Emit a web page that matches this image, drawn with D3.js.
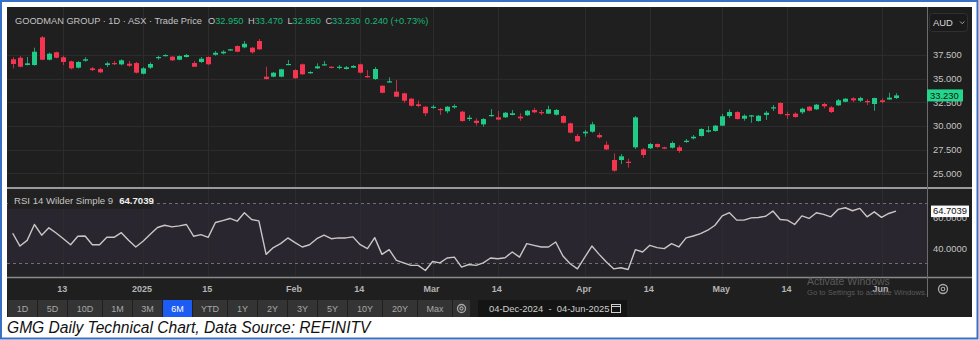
<!DOCTYPE html>
<html><head><meta charset="utf-8">
<script src="https://cdn.jsdelivr.net/npm/d3@7"></script>
<style>body{margin:0;background:#fff}svg{display:block;font-family:"Liberation Sans",Arial,sans-serif}</style>
</head><body><svg id="c" width="979" height="340"></svg>
<script>
// ---------- data ----------
const startDate = "2024-12-04", endDate = "2025-06-04";
const closedDays = ["2024-12-25","2024-12-26","2025-01-01","2025-01-27","2025-02-24","2025-04-18","2025-04-21","2025-04-25"];
const openP = [37.05,37.21,36.44,36.44,39.37,37.00,37.79,37.26,36.83,36.16,36.90,36.09,36.02,36.44,36.65,36.51,36.58,36.65,35.52,36.16,
37.21,37.39,37.32,37.00,37.29,36.65,36.76,37.29,37.53,37.68,38.00,38.45,38.31,38.27,38.98,35.21,35.21,35.21,36.47,35.91,
36.52,35.57,36.09,36.41,36.26,36.20,36.02,36.16,36.52,35.28,34.96,34.25,34.61,33.62,33.45,32.88,32.29,32.03,31.93,31.79,
31.55,31.97,31.51,30.73,30.55,30.17,31.05,30.92,30.91,31.16,30.98,31.13,31.69,31.47,31.30,31.19,31.05,30.28,28.94,29.22,
29.39,29.04,28.01,26.40,26.40,26.22,27.74,27.53,27.64,28.09,27.74,27.70,27.74,28.30,28.69,28.94,29.39,29.47,30.03,31.05,
31.47,30.77,31.02,30.52,31.16,31.86,32.43,31.26,31.30,31.44,32.03,31.76,32.32,31.97,32.18,32.56,32.92,32.67,32.64,32.32,
32.71,32.80,32.95];
const highP = [37.26,37.39,37.29,38.27,39.51,37.75,37.85,37.43,36.90,36.85,37.26,36.23,36.16,36.79,36.87,37.05,36.87,36.76,36.23,36.73,
37.43,37.58,37.40,37.46,37.61,36.87,37.29,37.35,37.92,38.00,38.15,38.52,38.98,38.35,39.19,36.26,35.70,36.05,36.97,36.00,
36.60,35.78,36.62,36.87,36.30,36.44,36.34,36.44,36.58,35.91,36.23,34.30,35.14,34.86,33.52,32.95,32.67,32.10,32.21,31.90,
32.11,32.29,31.60,31.13,30.81,30.84,31.79,31.58,31.48,31.69,31.34,31.69,31.93,31.69,32.14,31.79,31.13,30.35,29.15,29.57,
30.44,29.28,28.37,27.10,27.03,26.54,31.05,27.67,28.20,28.15,27.80,28.37,27.95,28.62,29.04,29.75,29.99,30.10,31.26,31.76,
31.55,31.23,31.16,31.16,31.58,32.21,32.50,31.51,31.44,31.93,32.10,32.32,32.46,32.10,32.85,32.95,33.03,33.09,32.82,33.00,
32.92,33.51,33.47];
const lowP = [36.09,36.20,36.40,36.37,36.95,36.93,37.15,36.44,35.98,36.08,36.79,35.81,35.60,36.23,36.44,36.41,36.23,35.55,35.46,36.02,
37.00,37.35,36.88,36.95,37.24,36.23,36.65,36.45,37.43,37.57,37.95,37.80,38.21,37.64,38.05,34.90,35.15,35.15,36.42,34.98,
35.40,35.50,36.02,36.37,36.08,35.99,35.97,36.13,35.57,35.10,34.86,33.44,34.57,33.05,32.46,32.05,31.97,31.05,31.82,31.16,
31.34,31.82,30.45,30.52,30.03,29.92,30.98,30.60,30.85,31.13,30.55,31.05,31.34,31.16,31.26,31.10,30.27,29.22,28.30,28.86,
29.28,28.69,27.46,25.16,25.98,25.59,27.56,26.64,27.56,27.70,27.55,27.60,27.17,28.22,28.58,28.88,29.28,29.40,29.99,30.84,
30.67,30.55,30.34,30.45,30.63,31.58,31.20,30.73,30.87,31.26,31.55,31.70,31.86,31.37,32.11,32.50,32.53,32.53,32.21,31.61,
32.39,32.74,32.85];
const closeP = [36.55,36.26,36.62,37.85,37.00,37.64,37.21,36.76,36.09,36.76,37.05,35.91,35.67,36.62,36.55,36.94,36.37,35.63,36.09,36.55,
37.29,37.50,36.94,37.39,37.50,36.26,37.11,36.52,37.74,37.85,38.10,37.85,38.69,37.79,38.10,34.96,35.63,35.99,36.55,35.04,
35.46,35.70,36.30,36.52,36.13,36.26,36.20,36.34,35.63,35.14,36.02,33.51,34.72,33.09,32.67,32.14,32.11,31.34,32.03,31.69,
32.03,32.11,30.52,30.87,30.31,30.73,31.16,30.67,31.40,31.34,30.81,31.61,31.44,31.34,31.76,31.69,30.34,29.29,28.38,29.39,
30.17,28.80,27.52,25.27,26.79,26.08,30.91,26.93,28.09,27.77,27.60,28.20,27.35,28.44,28.86,29.68,29.54,30.03,31.02,31.47,
30.73,31.08,31.12,31.08,31.40,31.97,31.26,31.16,30.95,31.82,31.61,32.25,32.08,31.47,32.71,32.88,32.71,32.95,32.50,32.95,
32.53,32.99,33.23];
const rsiValues = [50,41.5,45.3,55.8,48.7,53.6,50.2,46.4,42.4,48,48.2,42.4,42.4,47.3,47.3,50.4,45.3,40.9,44.7,49.3,
53.8,55.3,54.2,54.9,55.8,48,49.1,47.3,57.1,58.4,59.8,58,63.6,59.1,58.2,36,40.5,43.1,46.9,43.8,
40.9,42.4,46.4,48.7,46.4,46.9,46.9,47.6,42.4,39.8,47.1,36,39.1,32,30.4,28.7,28.7,25.3,31.3,30.4,
33.6,34.2,27.6,29.3,28.7,30.4,33.6,33.1,33.8,37.6,34.2,43.1,42,40.9,40.9,44.2,34.9,29.8,26.4,34,
41.5,36,30.9,26.4,27.1,26,39.1,37.6,42,40.5,39.8,43.1,40.9,46.9,48.2,49.8,52,55.3,61.5,63.6,
58.7,58.7,60.2,60.4,61.3,64.7,59.1,58.7,55.8,61.5,59.8,63.6,62.5,60.9,65.8,66.9,64.9,66.5,60.9,64.2,
60.5,63.1,64.7039];
const priceTicks = [25, 27.5, 30, 32.5, 35, 37.5];
const rsiTicks = [40, 60];
const rsiBands = [30, 70];
const xTickDates = ["2024-12-13","2025-01-02","2025-01-15","2025-02-03","2025-02-14","2025-03-03","2025-03-14","2025-04-01","2025-04-14","2025-05-01","2025-05-14","2025-06-02"];
const xTickLabels = ["13","2025","15","Feb","14","Mar","14","Apr","14","May","14","Jun"];
const rangeButtons = ["1D","5D","10D","1M","3M","6M","YTD","1Y","2Y","3Y","5Y","10Y","20Y","Max"];
const selectedRange = "6M";
const titleText = "GOODMAN GROUP · 1D · ASX · Trade Price";
const dateRangeText = "04-Dec-2024  -  04-Jun-2025";
const captionText = "GMG Daily Technical Chart, Data Source: REFINITV";

// ---------- setup ----------
const fmt = d3.utcFormat("%Y-%m-%d");
const dates = d3.utcDays(new Date(startDate), d3.utcDay.offset(new Date(endDate), 1))
  .filter(d => d.getUTCDay() % 6 !== 0).map(fmt).filter(s => !closedDays.includes(s));
const candles = dates.map((d, i) => ({d, o: openP[i], h: highP[i], l: lowP[i], c: closeP[i], r: rsiValues[i]}));

const svg = d3.select("#c");
const GREEN = "#1fcb86", RED = "#f5344f", TXT = "#c4c4c4", GRID = "#2c2c2c";
const L = 7, R = 972, AX = 927, TOP = 7, SEP1 = 188, SEP2 = 277.5, BOT = 317;

const x = d3.scalePoint().domain(dates).range([12.7, 896]);
const y = d3.scaleLinear().domain([23.44, 42.47]).range([SEP1, TOP + 1]);
const yr = d3.scaleLinear().domain([20.67, 79.33]).range([SEP2, SEP1 + 1]);

// frame
svg.append("rect").attr("width", 979).attr("height", 340).attr("fill", "#fff");
svg.append("rect").attr("x", 1).attr("y", 1).attr("width", 976.5).attr("height", 337.5)
  .attr("fill", "none").attr("stroke", "#3a6fc6").attr("stroke-width", 2);
svg.append("rect").attr("x", L).attr("y", TOP).attr("width", R - L).attr("height", BOT - TOP).attr("fill", "#1f1f1f");
svg.append("rect").attr("x", L).attr("y", SEP1).attr("width", AX - L).attr("height", SEP2 - SEP1).attr("fill", "#232226");
svg.append("rect").attr("x", L).attr("y", yr(70)).attr("width", AX - L).attr("height", yr(30) - yr(70)).attr("fill", "#29262f");

// grid
svg.append("g").selectAll("line").data(priceTicks).join("line")
  .attr("x1", L).attr("x2", AX).attr("y1", d => Math.round(y(d)) + 0.5).attr("y2", d => Math.round(y(d)) + 0.5)
  .attr("stroke", GRID);
svg.append("g").selectAll("line").data(xTickDates).join("line")
  .attr("x1", d => Math.round(x(d)) + 0.5).attr("x2", d => Math.round(x(d)) + 0.5)
  .attr("y1", TOP).attr("y2", SEP2).attr("stroke", GRID);

// candles
const cg = svg.append("g");
cg.selectAll("line").data(candles).join("line")
  .attr("x1", d => Math.round(x(d.d)) + 0.5).attr("x2", d => Math.round(x(d.d)) + 0.5)
  .attr("y1", d => y(d.h)).attr("y2", d => y(d.l))
  .attr("stroke", d => d.c >= d.o ? GREEN : RED).attr("stroke-opacity", 0.75);
cg.selectAll("rect").data(candles).join("rect")
  .attr("x", d => Math.round(x(d.d)) - 2).attr("width", 5)
  .attr("y", d => y(Math.max(d.o, d.c)))
  .attr("height", d => Math.max(1.2, Math.abs(y(d.o) - y(d.c))))
  .attr("fill", d => d.c >= d.o ? GREEN : RED);

// RSI
svg.append("g").selectAll("line").data(rsiBands).join("line")
  .attr("x1", L).attr("x2", AX).attr("y1", d => Math.round(yr(d)) + 0.5).attr("y2", d => Math.round(yr(d)) + 0.5)
  .attr("stroke", "#707070").attr("stroke-dasharray", "3,3");
svg.append("path").datum(candles)
  .attr("d", d3.line().x(d => x(d.d)).y(d => yr(d.r)))
  .attr("fill", "none").attr("stroke", "#cdc5c5").attr("stroke-width", 1.4).attr("stroke-linejoin", "round");

// separators & axis line
svg.append("line").attr("x1", L).attr("x2", R).attr("y1", SEP1).attr("y2", SEP1).attr("stroke", "#9a9a9a").attr("stroke-width", 2);
svg.append("line").attr("x1", L).attr("x2", R).attr("y1", SEP2).attr("y2", SEP2).attr("stroke", "#8a8a8a").attr("stroke-width", 1.5);
svg.append("line").attr("x1", AX + 0.5).attr("x2", AX + 0.5).attr("y1", TOP).attr("y2", 297).attr("stroke", "#6c6c6c");
svg.append("rect").attr("x", AX + 1).attr("y", TOP).attr("width", R - AX - 1).attr("height", SEP1 - TOP - 1).attr("fill", "#1e1e1e");

// header
const hdr = svg.append("text").attr("x", 15).attr("y", 24).attr("font-size", 9.25).attr("fill", TXT);
hdr.append("tspan").text(titleText);
const last = candles[candles.length - 1], prev = candles[candles.length - 2];
[["O", last.o], ["H", last.h], ["L", last.l], ["C", last.c]].forEach(([k, v], i) => {
  hdr.append("tspan").attr("dx", i === 0 ? 6 : 4.5).attr("fill", TXT).text(k);
  hdr.append("tspan").attr("fill", "#18b877").text(d3.format(".3f")(v));
});
const chg = last.c - prev.c;
hdr.append("tspan").attr("dx", 4.5).attr("fill", "#18b877")
  .text(`${d3.format(".3f")(chg)} (${d3.format("+.2f")(chg / prev.c * 100)}%)`);

// RSI label
svg.append("rect").attr("x", L + 1).attr("y", 191).attr("width", 144).attr("height", 18).attr("fill", "#212121");
const rl = svg.append("text").attr("x", 14).attr("y", 204).attr("font-size", 9.6).attr("fill", TXT);
rl.append("tspan").text("RSI 14 Wilder Simple 9");
rl.append("tspan").attr("dx", 6).attr("fill", "#f0f0f0").attr("font-weight", "bold").text(d3.format(".4f")(last.r));

// right axis
svg.append("g").selectAll("text").data(priceTicks).join("text")
  .attr("x", 933).attr("y", d => y(d)).attr("dy", "0.35em").attr("font-size", 9.4).attr("fill", TXT)
  .text(d => d3.format(".3f")(d));
svg.append("rect").attr("x", 929.5).attr("y", 13.5).attr("width", 38).attr("height", 18).attr("rx", 3)
  .attr("fill", "#1a1a1a").attr("stroke", "#303030");
svg.append("text").attr("x", 933).attr("y", 25.5).attr("font-size", 9.4).attr("fill", "#d8d8d8").text("AUD");
svg.append("path").attr("d", "M960,21.5 l2.2,2.2 l2.2,-2.2").attr("fill", "none").attr("stroke", "#aaa").attr("stroke-width", 1);
svg.append("rect").attr("x", AX).attr("y", y(last.c) - 6).attr("width", 36).attr("height", 12).attr("fill", "#22d68c");
svg.append("text").attr("x", 930).attr("y", y(last.c)).attr("dy", "0.35em").attr("font-size", 9.4).attr("fill", "#111")
  .text(d3.format(".3f")(last.c));

svg.append("g").selectAll("text").data(rsiTicks).join("text")
  .attr("x", 933).attr("y", d => yr(d)).attr("dy", "0.35em").attr("font-size", 9.4).attr("fill", TXT)
  .text(d => d3.format(".4f")(d));
svg.append("rect").attr("x", 931).attr("y", yr(last.r) - 5.5).attr("width", 38).attr("height", 11.5).attr("fill", "#fafafa");
svg.append("text").attr("x", 933).attr("y", yr(last.r)).attr("dy", "0.35em").attr("font-size", 9.4).attr("fill", "#111")
  .text(d3.format(".4f")(last.r));

// x axis labels
svg.append("g").selectAll("text").data(xTickDates).join("text")
  .attr("x", d => x(d) - 1).attr("y", 289).attr("dy", "0.35em").attr("text-anchor", "middle")
  .attr("font-size", 9).attr("font-weight", "bold").attr("fill", "#b4b4b4")
  .text((d, i) => xTickLabels[i]);

function gear(g, cx, cy, r) {
  g.append("circle").attr("cx", cx).attr("cy", cy).attr("r", r).attr("fill", "none").attr("stroke", "#aaa").attr("stroke-width", 1.3);
  g.append("circle").attr("cx", cx).attr("cy", cy).attr("r", r * 0.4).attr("fill", "none").attr("stroke", "#aaa").attr("stroke-width", 1.1);
}
gear(svg, 943, 289, 4.5);

// watermark
svg.append("text").attr("x", 807).attr("y", 285).attr("font-size", 10.5).attr("fill", "#6a6a6a").attr("opacity", 0.8).text("Activate Windows");
svg.append("text").attr("x", 807).attr("y", 295).attr("font-size", 7.6).attr("fill", "#6a6a6a").attr("opacity", 0.8).text("Go to Settings to activate Windows.");

// toolbar
const tb = svg.append("g").attr("font-size", 9).attr("text-anchor", "middle");
let bx = 8;
rangeButtons.forEach(b => {
  const w = b.length === 2 ? 29 : 34;
  const sel = b === selectedRange;
  tb.append("rect").attr("x", bx).attr("y", 300).attr("width", w).attr("height", 17).attr("fill", sel ? "#1d5cf2" : "#343434");
  tb.append("text").attr("x", bx + w / 2).attr("y", 308.5).attr("dy", "0.35em").attr("fill", sel ? "#fff" : "#a8a8a8").text(b);
  bx += w + 1;
});
tb.append("rect").attr("x", bx).attr("y", 300).attr("width", 17).attr("height", 17).attr("fill", "#343434");
gear(tb, bx + 8.5, 308.5, 4);
svg.append("rect").attr("x", 478).attr("y", 300).attr("width", 149).attr("height", 17).attr("fill", "#141414");
svg.append("text").attr("x", 489).attr("y", 308.5).attr("dy", "0.35em").attr("font-size", 9.4).attr("fill", "#cfcfcf")
  .attr("xml:space", "preserve").text(dateRangeText);
svg.append("rect").attr("x", 611.5).attr("y", 304.5).attr("width", 9).attr("height", 8).attr("fill", "none").attr("stroke", "#cfcfcf");
svg.append("line").attr("x1", 611.5).attr("x2", 620.5).attr("y1", 306.5).attr("y2", 306.5).attr("stroke", "#cfcfcf");

// caption
svg.append("text").attr("x", 7).attr("y", 332.5).attr("font-size", 15.6).attr("font-style", "italic")
  .attr("fill", "#111").text(captionText);
</script></body></html>
